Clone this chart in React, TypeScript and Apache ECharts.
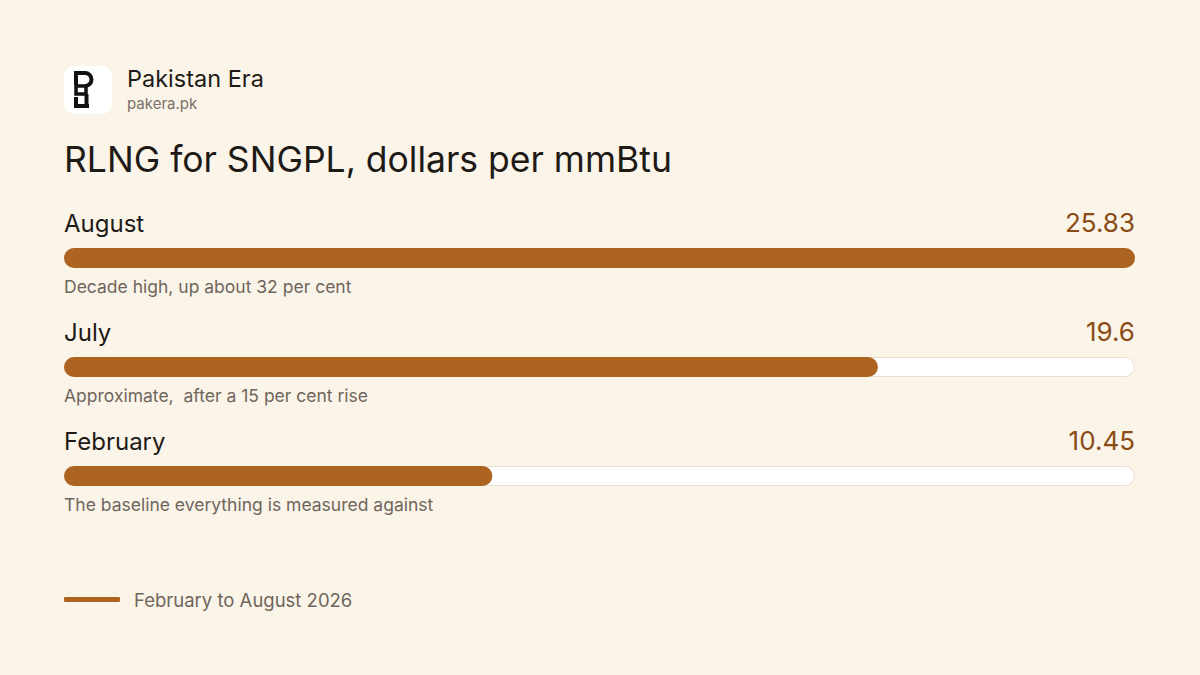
import React, { useEffect, useRef } from 'react';
import * as echarts from 'echarts';

const months = ['August', 'July', 'February'];
const priceLabels = ['25.83', '19.6', '10.45'];
// bar length, per cent of the full track, as drawn in the picture
const barShares = [100, 76, 40];
const notes = [
  'Decade high, up about 32 per cent',
  'Approximate,  after a 15 per cent rise',
  'The baseline everything is measured against',
];
const seriesName = 'February to August 2026';
const fullShare = 100;

const FONT = 'Inter, "Noto Sans", sans-serif';
const BROWN = '#AD6420';
const INK = '#111111';

const App = () => {
  const chartRef = useRef<HTMLDivElement>(null);

  useEffect(() => {
    if (!chartRef.current) return;
    const chart = echarts.init(chartRef.current, undefined, { renderer: 'svg' });

    const track = months.map(() => fullShare);

    const labelSeries = (name: string, position: any, align: string, text: string[], fontSize: number, color: string) => ({
      name,
      type: 'bar',
      data: track,
      barWidth: 20,
      barGap: '-100%',
      silent: true,
      itemStyle: { color: 'rgba(0,0,0,0)' },
      label: {
        show: true,
        position,
        align,
        verticalAlign: 'middle',
        formatter: (p: any) => text[p.dataIndex],
        fontSize,
        color,
        fontFamily: FONT,
      },
    });

    chart.setOption({
      animation: false,
      backgroundColor: '#FBF4E9',
      textStyle: { fontFamily: FONT },
      grid: { left: 64, right: 65, top: 203.5, height: 327 },
      xAxis: { type: 'value', min: 0, max: fullShare, show: false },
      yAxis: { type: 'category', data: months, inverse: true, show: false },
      legend: {
        left: 64,
        top: 590,
        padding: 0,
        data: [{ name: seriesName, icon: 'roundRect' }],
        itemWidth: 56,
        itemHeight: 5,
        textStyle: { fontSize: 18.5, color: '#6F665C', fontFamily: FONT, padding: [0, 0, 0, 9] },
        selectedMode: false,
      },
      series: [
        {
          name: 'track',
          type: 'bar',
          data: track,
          barWidth: 20,
          barGap: '-100%',
          silent: true,
          itemStyle: { color: '#FFFFFF', borderColor: '#EADFCF', borderWidth: 1, borderRadius: 10 },
        },
        labelSeries('months', [0, -25], 'left', months, 24, '#1E1A16'),
        labelSeries('values', ['100%', -26], 'right', priceLabels, 26, '#8A4B14'),
        labelSeries('notes', [0, 38], 'left', notes, 17.5, '#6F665C'),
        {
          name: seriesName,
          type: 'bar',
          data: barShares,
          barWidth: 20,
          barGap: '-100%',
          silent: true,
          itemStyle: { color: BROWN, borderRadius: 10 },
        },
      ],
      graphic: [
        {
          type: 'rect',
          shape: { x: 64, y: 66, width: 48, height: 48, r: 10 },
          style: { fill: '#FFFFFF' },
        },
        {
          type: 'group',
          children: [
            { type: 'rect', shape: { x: 74, y: 71, width: 12, height: 4 }, style: { fill: INK } },
            { type: 'rect', shape: { x: 74, y: 71, width: 4, height: 14 }, style: { fill: INK } },
            {
              type: 'arc',
              shape: { cx: 85, cy: 79.5, r: 6.5, startAngle: -Math.PI / 2, endAngle: Math.PI / 2 },
              style: { stroke: INK, lineWidth: 4, fill: 'none' },
            },
            { type: 'rect', shape: { x: 76, y: 86, width: 10, height: 8 }, style: { stroke: INK, lineWidth: 3.5, fill: 'none' } },
            { type: 'rect', shape: { x: 74, y: 97, width: 4, height: 11 }, style: { fill: INK } },
            { type: 'rect', shape: { x: 74, y: 104, width: 15, height: 4 }, style: { fill: INK } },
            { type: 'rect', shape: { x: 84.5, y: 94, width: 4, height: 14 }, style: { fill: INK } },
          ],
        },
        {
          type: 'text',
          left: 127,
          top: 66,
          style: { text: 'Pakistan Era', fontSize: 23.5, fill: '#1E1A16', fontFamily: FONT },
        },
        {
          type: 'text',
          left: 127,
          top: 96,
          style: { text: 'pakera.pk', fontSize: 15, fill: '#7A7066', fontFamily: FONT },
        },
        {
          type: 'text',
          left: 64,
          top: 141,
          style: { text: 'RLNG for SNGPL, dollars per mmBtu', fontSize: 35.5, fill: '#1E1A16', fontFamily: FONT },
        },
      ],
    });

    return () => {
      chart.dispose();
    };
  }, []);

  return (
    <div
      ref={chartRef}
      style={{ position: 'fixed', left: 0, top: 0, width: 1200, height: 675 }}
    />
  );
};

export default App;
